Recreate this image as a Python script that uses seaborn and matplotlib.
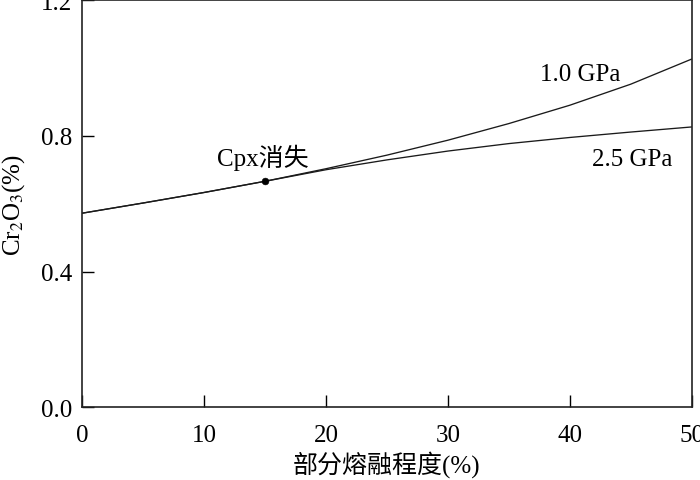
import matplotlib
matplotlib.use("Agg")
import matplotlib.pyplot as plt
import seaborn as sns
import pandas as pd

# Data
melt_pct = [0, 5, 10, 15, 20, 25, 30, 35, 40, 45, 50]
cr2o3_1gpa = [0.572, 0.602, 0.633, 0.666, 0.703, 0.743, 0.787, 0.836, 0.890, 0.952, 1.026]
cr2o3_25gpa = [0.572, 0.602, 0.633, 0.666, 0.700, 0.729, 0.755, 0.777, 0.795, 0.811, 0.826]
cpx_out_x = [15]
cpx_out_y = [0.666]
x_ticks = [0, 10, 20, 30, 40, 50]
y_ticks = [0.0, 0.4, 0.8, 1.2]

sns.set_theme(style="white")
plt.rcParams['font.family'] = ['Liberation Serif', 'Noto Sans CJK SC']
plt.rcParams['mathtext.fontset'] = 'stix'

df = pd.concat([
    pd.DataFrame({"x": melt_pct, "y": cr2o3_1gpa, "p": "1.0 GPa"}),
    pd.DataFrame({"x": melt_pct, "y": cr2o3_25gpa, "p": "2.5 GPa"}),
])

fig = plt.figure(figsize=(7, 4.81), dpi=100)
ax = fig.add_axes([0.1176, 0.1511, 0.8705, 0.8468])

sns.lineplot(data=df, x="x", y="y", units="p", estimator=None, color="#1a1a1a",
             linewidth=0.95, ax=ax, legend=False)
sns.scatterplot(x=cpx_out_x, y=cpx_out_y, color="black", s=24, ax=ax, zorder=5,
                edgecolor="black", legend=False)

ax.set_xlim(0, 50)
ax.set_ylim(0, 1.2)
ax.set_xticks(x_ticks)
ax.set_yticks(y_ticks)
ax.set_xticklabels([str(t) for t in x_ticks])
ax.set_yticklabels([f"{t:.1f}" for t in y_ticks])
ax.tick_params(axis="both", direction="in", length=8.5, width=1.0, colors="black",
               labelsize=18, left=True, bottom=True, top=False, right=False)
ax.tick_params(axis="x", pad=12)
ax.tick_params(axis="y", pad=7)
for s in ax.spines.values():
    s.set_color("#222222")
    s.set_linewidth(1.2)

ax.set_xlabel("部分熔融程度(%)", fontsize=18, color="black", labelpad=3)
ax.set_ylabel("Cr$_2$O$_3$(%)", fontsize=18, color="black", labelpad=10)

ax.text(40.84, 0.982, "1.0 GPa", fontsize=18, ha="center", va="center", color="black")
ax.text(45.1, 0.732, "2.5 GPa", fontsize=18, ha="center", va="center", color="black")
ax.text(14.8, 0.737, "Cpx消失", fontsize=18, ha="center", va="center", color="black")

fig.savefig("out.png", dpi=100)
